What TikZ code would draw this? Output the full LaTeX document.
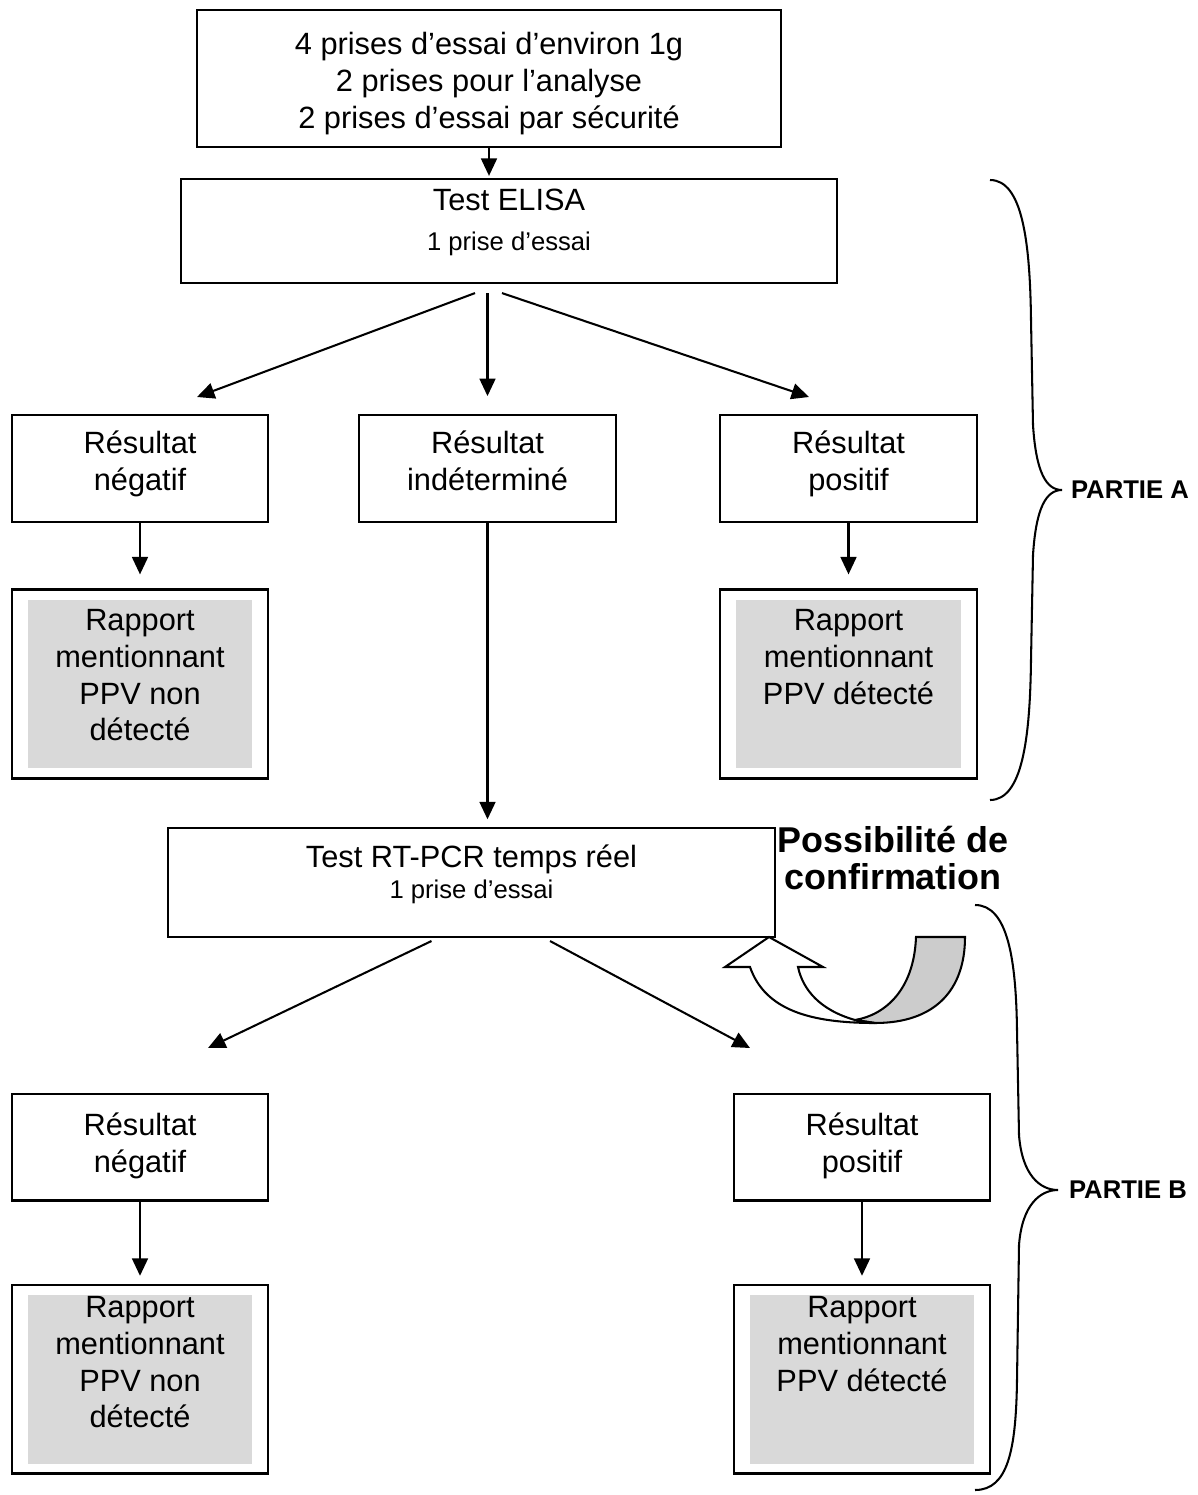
\documentclass[tikz,border=0pt]{standalone}
\usepackage{fontspec}
\setmainfont{Liberation Sans}
\usetikzlibrary{arrows.meta,calc}
\newcommand{\policegrande}{\fontsize{12}{14.4}\selectfont}
\newcommand{\policepetite}{\fontsize{10}{12}\selectfont}
\tikzset{
  boite/.style={draw, line width=0.8pt, inner sep=0pt},
  resultat/.style={boite, minimum width=100pt, minimum height=41.7pt},
  rapport/.style={boite, minimum width=100pt, minimum height=73.7pt,
    path picture={\fill[black!15] ([shift={(6.2pt,-3.9pt)}]path picture bounding box.north west)
      rectangle ([shift={(-6.2pt,3.9pt)}]path picture bounding box.south east);}},
  texte/.style={anchor=north, inner sep=0pt, align=center, font=\policegrande},
  partie/.style={anchor=west, inner sep=0pt, font=\bfseries\policepetite},
  fleche/.style={line width=0.8pt, -{Triangle[length=6.8pt,width=6.2pt]}}
}
\begin{document}
\begin{tikzpicture}[x=0.39pt, y=-0.39pt, line width=0.8pt]
\useasboundingbox (0,0) rectangle (1198,1495);

% prises d'essai
\node[boite, minimum width=227.8pt, minimum height=53.4pt] (prises) at (489,78.5) {};
\node[texte] (prises-t) at ($(prises.north)+(0,22.5)$)
  {4 prises d’essai d’environ 1g\\2 prises pour l’analyse\\2 prises d’essai par sécurité};

% partie A
\node[boite, minimum width=255.8pt, minimum height=40.6pt] (elisa) at (509,231) {};
\node[texte] (elisa-t) at ($(elisa.north)+(0,10.5)$) {Test ELISA\\[1.2pt]{\policepetite 1 prise d’essai}};

\node[resultat] (negA) at (140,468.5) {};
\node[texte] (negA-t) at ($(negA.north)+(0,15.5)$) {Résultat\\négatif};
\node[resultat] (indA) at (487.5,468.5) {};
\node[texte] (indA-t) at ($(indA.north)+(0,15.5)$) {Résultat\\indéterminé};
\node[resultat] (posA) at (848.5,468.5) {};
\node[texte] (posA-t) at ($(posA.north)+(0,15.5)$) {Résultat\\positif};

\node[rapport] (rapNegA) at (140,684) {};
\node[texte] (rapNegA-t) at ($(rapNegA.north)+(0,19.5)$) {Rapport\\mentionnant\\PPV non\\détecté};
\node[rapport] (rapPosA) at (848.5,684) {};
\node[texte] (rapPosA-t) at ($(rapPosA.north)+(0,19.5)$) {Rapport\\mentionnant\\PPV détecté};

% partie B
\node[boite, minimum width=236.7pt, minimum height=42.5pt] (rt) at (471.5,882.5) {};
\node[texte] (rt-t) at ($(rt.north)+(0,16.5)$) {Test RT-PCR temps réel\\[-2pt]{\policepetite 1 prise d’essai}};

\node[resultat] (negB) at (140,1147) {};
\node[texte] (negB-t) at ($(negB.north)+(0,19)$) {Résultat\\négatif};
\node[resultat] (posB) at (862,1147) {};
\node[texte] (posB-t) at ($(posB.north)+(0,19)$) {Résultat\\positif};

\node[rapport] (rapNegB) at (140,1379) {};
\node[texte] (rapNegB-t) at ($(rapNegB.north)+(0,11.5)$) {Rapport\\mentionnant\\PPV non\\détecté};
\node[rapport] (rapPosB) at (862,1379) {};
\node[texte] (rapPosB-t) at ($(rapPosB.north)+(0,11.5)$) {Rapport\\mentionnant\\PPV détecté};

% fleches
\coordinate (negA-pt) at (197,397);
\coordinate (posA-pt) at (809,397);
\coordinate (negB-pt) at (208,1048);
\coordinate (posB-pt) at (750,1048);
\draw[fleche, shorten >=0.8pt] (prises.south) -- (prises.south |- elisa.north);
\draw[fleche] ($(elisa.south)+(-34,9)$) -- (negA-pt);
\draw[fleche, shorten <=3.5pt, shorten >=7pt] (indA.north |- elisa.south) -- (indA.north);
\draw[fleche] ($(elisa.south)+(-7,9)$) -- (posA-pt);
\draw[fleche, shorten >=5.5pt] (negA.south) -- (rapNegA.north);
\draw[fleche, shorten >=5.5pt] (posA.south) -- (rapPosA.north);
\draw[fleche, shorten >=3pt] (indA.south) -- (indA.south |- rt.north);
\draw[fleche] ($(rt.south)+(-40,3)$) -- (negB-pt);
\draw[fleche] ($(rt.south)+(78.5,3)$) -- (posB-pt);
\draw[fleche, shorten >=3pt] (negB.south) -- (rapNegB.north);
\draw[fleche, shorten >=3pt] (posB.south) -- (rapPosB.north);

% fleche de confirmation
\filldraw[fill=black!20] (916,937) -- (965,937) .. controls (965,990) and (935,1023) .. (875,1023)
  -- (855,1020) .. controls (885,1015) and (914,990) .. (916,937) -- cycle;
\filldraw[fill=white] (798,967) -- (823,967) -- (769,937) -- (725,967) -- (750,967)
  .. controls (765,1010) and (810,1023) .. (875,1023) -- (855,1020)
  .. controls (820,1010) and (803,990) .. (798,967) -- cycle;
\node[align=center, inner sep=0pt, font=\bfseries\fontsize{14}{14.5}\selectfont] (confirm) at (893,858) {Possibilité de\\confirmation};

% accolades
\draw (990,180) .. controls (1022,180) and (1030,240) .. (1031,320) -- (1033,425)
  .. controls (1036,472) and (1046,490) .. (1062,490)
  .. controls (1046,490) and (1036,508) .. (1033,555) -- (1031,660)
  .. controls (1030,740) and (1022,800) .. (990,800);
\node[partie] (partieA) at (1070,490) {PARTIE A};
\draw (975,905) .. controls (1008,905) and (1016,960) .. (1017,1030) -- (1019,1135)
  .. controls (1022,1175) and (1040,1190) .. (1058,1190)
  .. controls (1040,1190) and (1022,1205) .. (1019,1245) -- (1017,1380)
  .. controls (1016,1450) and (1008,1490) .. (975,1490);
\node[partie] (partieB) at (1068,1190) {PARTIE B};
\end{tikzpicture}
\end{document}
